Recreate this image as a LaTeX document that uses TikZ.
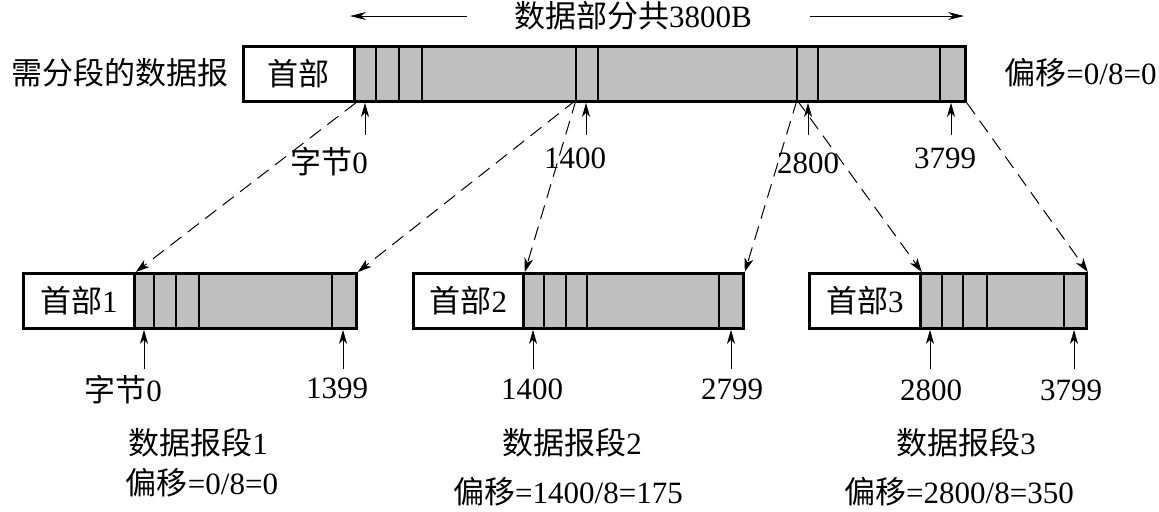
\documentclass[tikz,border=0pt]{standalone}
\usepackage{fontspec}
\setmainfont{Liberation Serif}
\newfontfamily\cjk{Noto Sans CJK SC}
\usetikzlibrary{arrows.meta}
\definecolor{segfill}{RGB}{191,191,191}
\newcommand{\zh}[1]{{\cjk #1}}

\begin{document}
\begin{tikzpicture}[
    x=0.5pt, y=-0.5pt,
    lbl/.style={font=\fontsize{15.5}{18}\selectfont, inner sep=0pt},
    hdr/.style={lbl, draw, line width=1.4pt, fill=white, minimum height=27.5pt, anchor=north west},
    dat/.style={draw, line width=1.4pt, fill=segfill, minimum height=27.5pt, inner sep=0pt, anchor=north west},
    cut/.style={line width=1.4pt},
    link/.style={line width=0.5pt, dash pattern=on 7pt off 4pt, -{Stealth[length=7pt, width=4.5pt, inset=2pt]}},
    tick/.style={line width=0.5pt, -{Stealth[length=7pt, width=4pt, inset=2pt]}},
    span/.style={line width=0.5pt, -{Stealth[length=8pt, width=4pt, inset=2.5pt]}}
]
\useasboundingbox (0,0) rectangle (1159,511);

% datagram to be fragmented
\node[hdr, minimum width=55.5pt] (hdr0) at (242,45) {\zh{首部}};
\node[dat, minimum width=305.5pt] (data0) at (353,45) {};
\foreach \x in {376,399,422,576,598,797,818,940}
    \draw[cut] (\x,45) -- (\x,100);
\coordinate (cut1400) at (576,100);
\coordinate (cut2800) at (797,100);

\node[lbl, anchor=east] (orig) at (229,73) {\zh{需分段的数据报}};
\node[lbl, anchor=west] (shift0) at (1004,73) {\zh{偏移}=0/8=0};
\node[lbl] (total) at (633,16) {\zh{数据部分共}3800B};
\coordinate (lend) at (350,16);
\coordinate (rend) at (964,16);
\draw[span] ([xshift=-23.5pt]total.west) -- (lend);
\draw[span] ([xshift=29pt]total.east) -- (rend);

\node[lbl] (byte0) at (329,162) {\zh{字节}0};
\node[lbl] (top1400) at (575,158) {1400};
\node[lbl] (top2800) at (808,163) {2800};
\node[lbl] (top3799) at (945,158) {3799};
\foreach \x in {365,586,808,951}
    \draw[tick] (\x,135) -- (data0.south -| \x,0);

% fragments
\node[hdr, minimum width=55.5pt] (hdr1) at (22,272) {\zh{首部}1};
\node[dat, minimum width=111pt] (data1) at (133,272) {};
\node[hdr, minimum width=55pt] (hdr2) at (412,272) {\zh{首部}2};
\node[dat, minimum width=110pt] (data2) at (522,272) {};
\node[hdr, minimum width=55.5pt] (hdr3) at (808,272) {\zh{首部}3};
\node[dat, minimum width=83pt] (data3) at (919,272) {};
\foreach \x in {154,176,199,332,544,566,587,719,942,963,987,1064}
    \draw[cut] (\x,272) -- (\x,327);

\foreach \x/\n in {144/1,343/1,533/2,731/2,930/3,1074/3}
    \draw[tick] (\x,369) -- (data\n.south -| \x,0);

\node[lbl] (f1first) at (123,390) {\zh{字节}0};
\node[lbl] (f1last) at (337,388) {1399};
\node[lbl] (f2first) at (532,389) {1400};
\node[lbl] (f2last) at (732,389) {2799};
\node[lbl] (f3first) at (931,390) {2800};
\node[lbl] (f3last) at (1071,390) {3799};

\node[lbl] (frag1) at (198,443) {\zh{数据报段}1};
\node[lbl] (shift1) at (202,483) {\zh{偏移}=0/8=0};
\node[lbl] (frag2) at (572,443) {\zh{数据报段}2};
\node[lbl] (shift2) at (568,492) {\zh{偏移}=1400/8=175};
\node[lbl] (frag3) at (966,443) {\zh{数据报段}3};
\node[lbl] (shift3) at (959,492) {\zh{偏移}=2800/8=350};

% dashed mapping of the pieces
\draw[link] (hdr0.south east) -- (hdr1.north east);
\draw[link] (cut1400) -- (data1.north east);
\draw[link] (cut1400) -- (hdr2.north east);
\draw[link] (cut2800) -- (data2.north east);
\draw[link] (cut2800) -- (hdr3.north east);
\draw[link] (data0.south east) -- (data3.north east);
\end{tikzpicture}
\end{document}
